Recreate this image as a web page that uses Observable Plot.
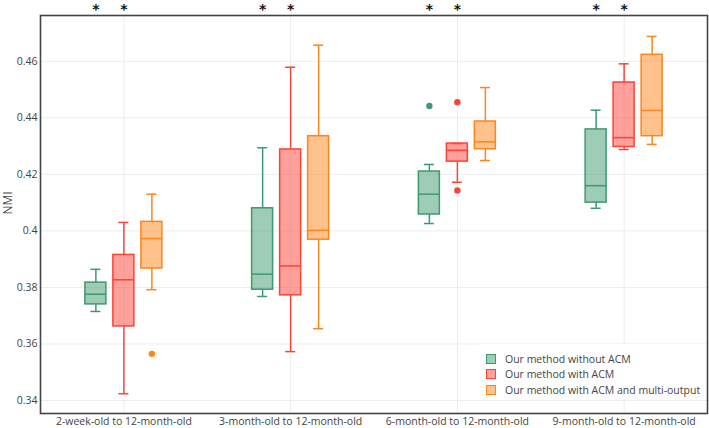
<!DOCTYPE html>
<html>
<head>
<meta charset="utf-8">
<script src="https://cdn.jsdelivr.net/npm/d3@7"></script>
<script src="https://cdn.jsdelivr.net/npm/@observablehq/plot@0.6"></script>
<style>
  html, body { margin: 0; padding: 0; background: #fff; }
  #wrap { position: relative; width: 709px; height: 428px; font-family: "Open Sans", sans-serif; }
  #legend { position: absolute; left: 479px; top: 344px; width: 226px; height: 55px; background: #fff; }
  .item { position: absolute; left: 0; height: 15px; display: flex; align-items: center; font-size: 10.5px; color: #444; white-space: nowrap; }
  .sw { width: 8px; height: 8px; margin-left: 7px; margin-right: 9px; border: 1.2px solid; }
</style>
</head>
<body>
<div id="wrap"><div id="legend"></div></div>
<script>
// ---------------- data ----------------
const categories = [
  "2-week-old to 12-month-old",
  "3-month-old to 12-month-old",
  "6-month-old to 12-month-old",
  "9-month-old to 12-month-old"
];
const series = [
  "Our method without ACM",
  "Our method with ACM",
  "Our method with ACM and multi-output"
];
const colors = ["#3D9970", "#FF4136", "#FF851B"];

// box statistics per series, one value per category
const greenLow  = [0.3715, 0.3768, 0.4026, 0.4080];
const greenQ1   = [0.3740, 0.3792, 0.4058, 0.4100];
const greenMed  = [0.3776, 0.3847, 0.4130, 0.4160];
const greenQ3   = [0.3817, 0.4080, 0.4210, 0.4359];
const greenHigh = [0.3864, 0.4294, 0.4235, 0.4427];

const redLow  = [0.3424, 0.3573, 0.4172, 0.4288];
const redQ1   = [0.3662, 0.3772, 0.4245, 0.4297];
const redMed  = [0.3827, 0.3876, 0.4285, 0.4330];
const redQ3   = [0.3915, 0.4288, 0.4309, 0.4525];
const redHigh = [0.4030, 0.4579, 0.4309, 0.4591];

const orangeLow  = [0.3792, 0.3654, 0.4249, 0.4306];
const orangeQ1   = [0.3867, 0.3969, 0.4289, 0.4335];
const orangeMed  = [0.3973, 0.4002, 0.4315, 0.4426];
const orangeQ3   = [0.4032, 0.4335, 0.4387, 0.4623];
const orangeHigh = [0.4130, 0.4657, 0.4507, 0.4688];

// outliers: [category index, series index, value]
const outlierCat    = [0, 2, 2, 2];
const outlierSeries = [2, 0, 1, 1];
const outlierValue  = [0.3565, 0.4442, 0.4455, 0.4143];

// significance stars: series marked in every category
const starSeries = [0, 1];

const yTicks = [0.34, 0.36, 0.38, 0.40, 0.42, 0.44, 0.46];
const yDomain = [0.3354, 0.4762];
const yLabel = "NMI";

// ---------------- layout ----------------
const W = 709, H = 428, ML = 40, MR = 2, MT = 15, MB = 15;
const bandPx = (W - ML - MR) / categories.length;
const offset = 28 / bandPx;     // spacing between boxes in a group
const halfBox = 10.5 / bandPx;  // half box width
const halfCap = 5 / bandPx;     // half whisker cap width

const stats = [
  [greenLow, greenQ1, greenMed, greenQ3, greenHigh],
  [redLow, redQ1, redMed, redQ3, redHigh],
  [orangeLow, orangeQ1, orangeMed, orangeQ3, orangeHigh]
];
const xc = (ci, si) => ci + 0.5 + (si - 1) * offset;

const rows = [];
categories.forEach((cat, ci) => {
  series.forEach((s, si) => {
    const [lo, q1, md, q3, hi] = stats[si];
    rows.push({cat, series: s, x: xc(ci, si), low: lo[ci], q1: q1[ci], med: md[ci], q3: q3[ci], high: hi[ci]});
  });
});
const outliers = outlierValue.map((v, i) => ({series: series[outlierSeries[i]], x: xc(outlierCat[i], outlierSeries[i]), y: v}));
const stars = [];
categories.forEach((c, ci) => starSeries.forEach(si => stars.push({x: xc(ci, si)})));
const xTicks = categories.map((c, i) => i + 0.5);

const colorScale = {domain: series, range: colors};

const chart = Plot.plot({
  width: W, height: H,
  marginLeft: ML, marginRight: MR, marginTop: MT, marginBottom: MB,
  style: {fontFamily: "'Open Sans', sans-serif", color: "#444", background: "transparent", overflow: "visible"},
  x: {domain: [0, categories.length], axis: null},
  y: {domain: yDomain, axis: null},
  color: colorScale,
  marks: [
    Plot.ruleY(yTicks, {stroke: "#ececec", strokeWidth: 1}),
    Plot.ruleX(xTicks, {stroke: "#ececec", strokeWidth: 1}),
    Plot.axisY({ticks: yTicks, tickSize: 0, tickPadding: 3, fontSize: 10.5,
      tickFormat: d => String(+d.toFixed(2)), label: null}),
    Plot.axisX({ticks: xTicks, tickSize: 0, tickPadding: 4.5, fontSize: 10.5,
      tickFormat: d => categories[Math.floor(d)], label: null}),
    Plot.text([yLabel], {frameAnchor: "left", dx: -32, rotate: -90, fontSize: 12, fill: "#444", text: d => d}),
    // whiskers
    Plot.ruleX(rows, {x: "x", y1: "low", y2: "q1", stroke: "series", strokeWidth: 1.5}),
    Plot.ruleX(rows, {x: "x", y1: "q3", y2: "high", stroke: "series", strokeWidth: 1.5}),
    Plot.ruleY(rows, {y: "low", x1: d => d.x - halfCap, x2: d => d.x + halfCap, stroke: "series", strokeWidth: 1.5}),
    Plot.ruleY(rows, {y: "high", x1: d => d.x - halfCap, x2: d => d.x + halfCap, stroke: "series", strokeWidth: 1.5}),
    // boxes
    Plot.rect(rows, {x1: d => d.x - halfBox, x2: d => d.x + halfBox, y1: "q1", y2: "q3",
      fill: "series", fillOpacity: 0.5, stroke: "series", strokeWidth: 1.5}),
    Plot.ruleY(rows, {y: "med", x1: d => d.x - halfBox, x2: d => d.x + halfBox, stroke: "series", strokeWidth: 1.5}),
    // outliers
    Plot.dot(outliers, {x: "x", y: "y", fill: "series", r: 3.2}),
    // stars
    Plot.text(stars, {x: "x", frameAnchor: "top", lineAnchor: "top", text: () => "*", dy: -11.5, fontSize: 14, fontWeight: "bold", fill: "#111", fontFamily: "DejaVu Sans"}),
    Plot.frame({stroke: "#444", strokeWidth: 1.6})
  ]
});

const wrap = document.getElementById("wrap");
wrap.insertBefore(chart, wrap.firstChild);

const legend = document.getElementById("legend");
series.forEach((s, i) => {
  const it = document.createElement("div");
  it.className = "item";
  it.style.top = (7 + i * 15.5) + "px";
  const sw = document.createElement("span");
  sw.className = "sw";
  sw.style.borderColor = colors[i];
  sw.style.background = d3.color(colors[i]).copy({opacity: 0.5}).formatRgb();
  const tx = document.createElement("span");
  tx.textContent = s;
  it.appendChild(sw); it.appendChild(tx);
  legend.appendChild(it);
});
</script>
</body>
</html>
